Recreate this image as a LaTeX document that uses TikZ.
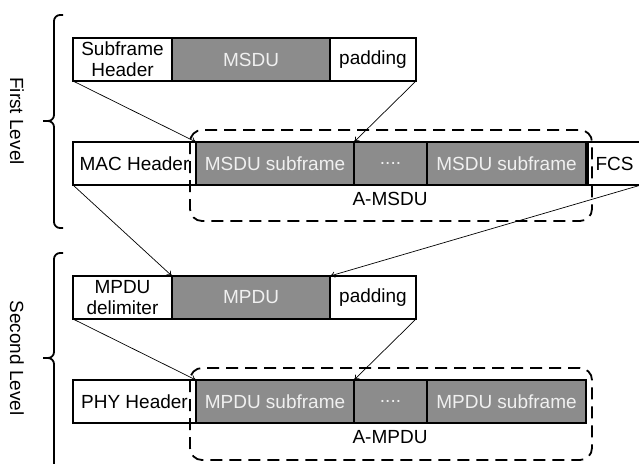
\documentclass[tikz,border=0pt]{standalone}
\usepackage{fontspec}
\setmainfont{Liberation Sans}
\usetikzlibrary{positioning,arrows.meta}
\definecolor{fieldgray}{RGB}{140,140,140}
\definecolor{fieldtext}{RGB}{240,240,240}

\begin{document}
\begin{tikzpicture}[x=1pt,y=-1pt,
    field/.style={draw, line width=1.8pt, minimum height=43pt, inner sep=0pt, outer sep=0pt,
                  align=center, font=\fontsize{19}{21}\selectfont},
    whitefield/.style={field, fill=white},
    grayfield/.style={field, fill=fieldgray, text=fieldtext},
    group/.style={draw, line width=1.8pt, rounded corners=12pt, dash pattern=on 12pt off 7pt},
    link/.style={-{To[length=5pt,width=6pt]}, line width=0.7pt},
    lbl/.style={font=\fontsize{19}{21}\selectfont},
    levelbrace/.style={line width=1.8pt, rounded corners=6pt}]

    \useasboundingbox (0,0) rectangle (639,463);

    % first level
    \node[whitefield, minimum width=99pt, anchor=north west] (sfh) at (73,38) {Subframe\\Header};
    \node[grayfield, minimum width=158pt, right=0pt of sfh] (msdu) {MSDU};
    \node[whitefield, minimum width=86pt, right=0pt of msdu] (pad1) {padding};

    \node[whitefield, minimum width=123pt, anchor=north west] (mac) at (73,142) {MAC Header};
    \node[grayfield, minimum width=158pt, right=0pt of mac] (msub1) {MSDU subframe};
    \node[grayfield, minimum width=73pt, right=0pt of msub1] (dots1) {....};
    \node[grayfield, minimum width=159pt, right=0pt of dots1] (msub2) {MSDU subframe};
    \node[whitefield, minimum width=53pt, right=2pt of msub2] (fcs) {FCS};

    \draw[group] (190,130) rectangle (592,221);
    \node[lbl] (amsdu) at (390,199) {A-MSDU};

    % second level
    \node[whitefield, minimum width=99pt, anchor=north west] (delim) at (73,276) {MPDU\\delimiter};
    \node[grayfield, minimum width=158pt, right=0pt of delim] (mpdu) {MPDU};
    \node[whitefield, minimum width=86pt, right=0pt of mpdu] (pad2) {padding};

    \node[whitefield, minimum width=123pt, anchor=north west] (phy) at (73,380) {PHY Header};
    \node[grayfield, minimum width=158pt, right=0pt of phy] (psub1) {MPDU subframe};
    \node[grayfield, minimum width=73pt, right=0pt of psub1] (dots2) {....};
    \node[grayfield, minimum width=159pt, right=0pt of dots2] (psub2) {MPDU subframe};

    \draw[group] (190,368) rectangle (592,460);
    \node[lbl] (ampdu) at (390,437) {A-MPDU};

    % arrows
    \draw[link] (sfh.south west) -- (msub1.north west);
    \draw[link] (pad1.south east) -- (dots1.north west);
    \draw[link] (mac.south west) -- (mpdu.north west);
    \draw[link] (fcs.south east) -- (pad2.north west);
    \draw[link] (delim.south west) -- (psub1.north west);
    \draw[link] (pad2.south east) -- (dots2.north west);

    % braces
    \draw[levelbrace] (63,15) -- (54,15) -- (54,121) -- (43,121);
    \draw[levelbrace] (43,121) -- (54,121) -- (54,228) -- (63,228);
    \node[lbl, rotate=-90] (first) at (17,121) {First Level};

    \draw[levelbrace] (63,253) -- (54,253) -- (54,358) -- (43,358);
    \draw[levelbrace] (43,358) -- (54,358) -- (54,475);
    \node[lbl, rotate=-90] (second) at (17,358) {Second Level};
\end{tikzpicture}
\end{document}
